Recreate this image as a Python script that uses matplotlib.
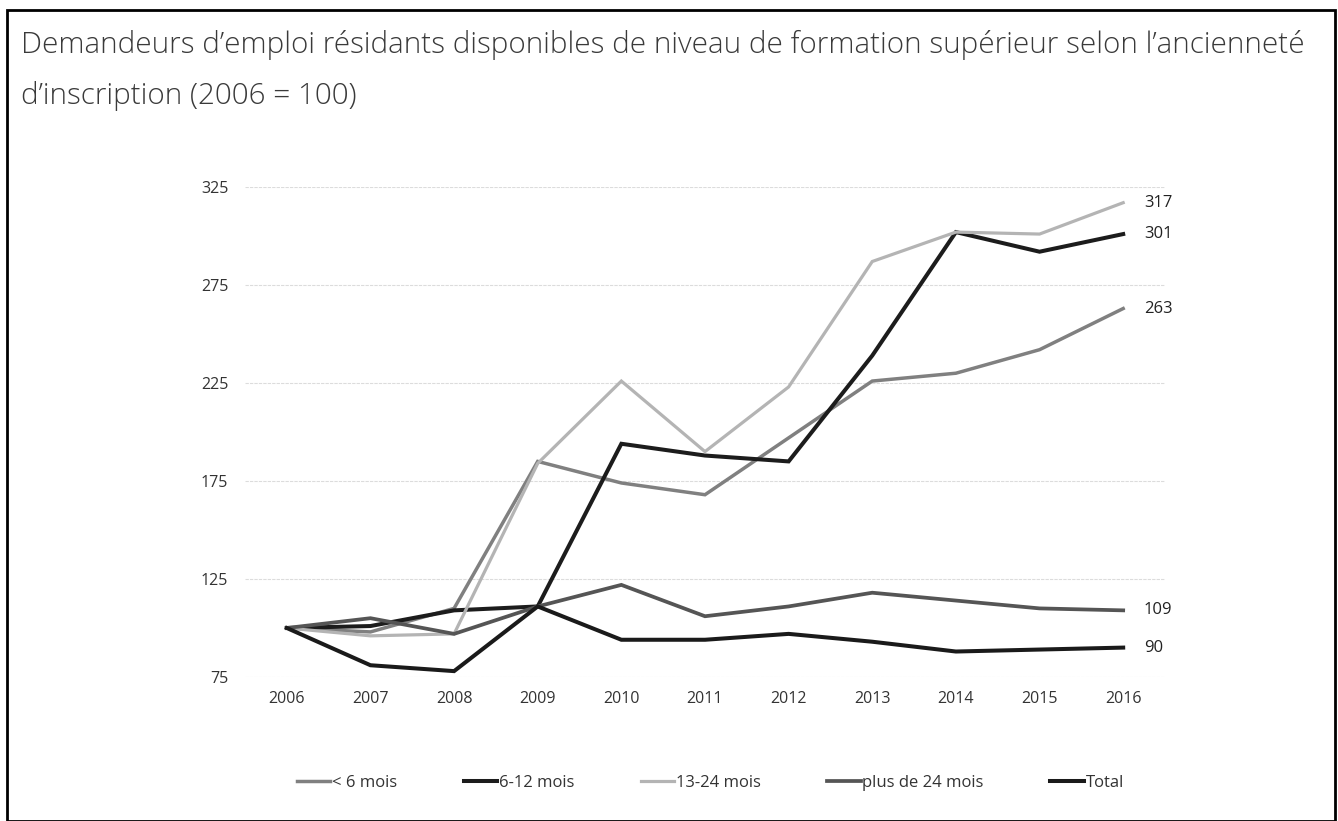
import matplotlib
matplotlib.use("Agg")
import matplotlib.pyplot as plt
from matplotlib.patches import Rectangle

years = [2006, 2007, 2008, 2009, 2010, 2011, 2012, 2013, 2014, 2015, 2016]
moins_6 = [100, 98, 110, 185, 174, 168, 197, 226, 230, 242, 263]
mois_6_12 = [100, 101, 109, 111, 194, 188, 185, 239, 302, 292, 301]
mois_13_24 = [100, 96, 97, 184, 226, 190, 223, 287, 302, 301, 317]
plus_24 = [100, 105, 97, 111, 122, 106, 111, 118, 114, 110, 109]
total = [100, 81, 78, 111, 94, 94, 97, 93, 88, 89, 90]

series_names = ["< 6 mois", "6-12 mois", "13-24 mois", "plus de 24 mois", "Total"]
series_values = [moins_6, mois_6_12, mois_13_24, plus_24, total]
colors = ["#808080", "#1c1c1c", "#b4b4b4", "#555555", "#1a1a1a"]
widths = [2.5, 2.9, 2.3, 2.7, 2.9]
end_labels = ["263", "301", "317", "109", "90"]
yticks = [75, 125, 175, 225, 275, 325]

plt.rcParams['font.family'] = ['Open Sans', 'DejaVu Sans']

fig = plt.figure(figsize=(13.38, 8.21), dpi=100)
fig.patches.append(Rectangle((0.005, 0.0), 0.993, 0.988, transform=fig.transFigure,
                             fill=False, edgecolor="black", linewidth=2.0))

fig.text(0.016, 0.945, "Demandeurs d\u2019emploi résidants disponibles de niveau de formation supérieur selon l\u2019ancienneté",
         fontsize=21.3, color="#3a3a3a", fontweight="light", va="center", ha="left")
fig.text(0.016, 0.883, "d\u2019inscription (2006 = 100)",
         fontsize=21.3, color="#3a3a3a", fontweight="light", va="center", ha="left")

ax = fig.add_axes([0.1831, 0.1754, 0.6876, 0.5968])
x = list(range(len(years)))
for name, vals, c, lw in zip(series_names, series_values, colors, widths):
    ax.plot(x, vals, color=c, linewidth=lw, label=name, solid_joinstyle="miter")

for vals, lab in zip(series_values, end_labels):
    ax.annotate(lab, xy=(x[-1], vals[-1]), xytext=(15, 0), textcoords="offset points",
                va="center", ha="left", fontsize=12, color="#222222", annotation_clip=False)

ax.set_xlim(-0.5, len(years) - 0.5)
ax.set_ylim(75, 325)
ax.set_yticks(yticks)
ax.set_xticks(x)
ax.set_xticklabels([str(y) for y in years])
ax.grid(axis="y", color="#dcdcdc", linewidth=0.8, linestyle=(0, (3, 1)))
ax.set_axisbelow(True)
for s in ax.spines.values():
    s.set_visible(False)
ax.tick_params(axis="both", length=0, labelsize=11.5, labelcolor="#333333")
ax.tick_params(axis="y", pad=12)
ax.tick_params(axis="x", pad=10)

fig.legend(loc="center", bbox_to_anchor=(0.531, 0.046), ncol=5, frameon=False,
           fontsize=12, handlelength=2.0, handletextpad=0.1, columnspacing=4.0,
           labelcolor="#333333")

fig.savefig("out.png", dpi=100)
